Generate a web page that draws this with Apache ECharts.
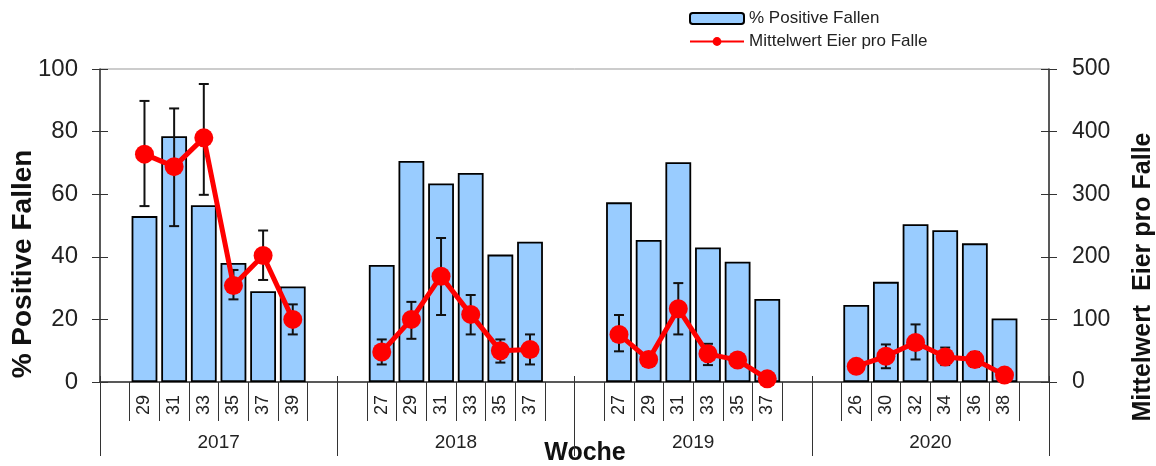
<!DOCTYPE html>
<html>
<head>
<meta charset="utf-8">
<script src="https://cdn.jsdelivr.net/npm/echarts@6/dist/echarts.min.js"></script>
<style>html,body{margin:0;padding:0;background:#fff;}#c{width:1156px;height:466px;}</style>
</head>
<body>
<div id="c"></div>
<script>
// ---- data ----
const years = ['2017', '2018', '2019', '2020'];
const weeks = [
  ['29', '31', '33', '35', '37', '39'],
  ['27', '29', '31', '33', '35', '37'],
  ['27', '29', '31', '33', '35', '37'],
  ['26', '30', '32', '34', '36', '38']
];
const pctPositive = [
  [53, 78.5, 56.5, 38, 29, 30.5],
  [37.4, 70.6, 63.4, 66.8, 40.7, 44.8],
  [57.4, 45.4, 70.2, 43, 38.4, 26.5],
  [24.6, 32, 50.4, 48.5, 44.3, 20.3]
];
const eggsMean = [
  [364, 344, 390, 154, 202, 100],
  [48, 100, 169, 108, 50, 52],
  [76, 36, 117, 45, 35, 5],
  [25, 41, 63, 40, 36, 11]
];
const errLow = [
  [281, 249, 299, 132, 163, 76],
  [28, 69, 107, 76, 31, 28],
  [49, 30, 76, 27, 29, 2],
  [20, 22, 36, 27, 24, 6]
];
const errHigh = [
  [449, 437, 476, 179, 242, 124],
  [68, 128, 230, 139, 68, 76],
  [107, 42, 158, 61, 41, 8],
  [30, 60, 92, 55, 48, 16]
];
const leftTicks = { min: 0, max: 100, interval: 20 };
const rightTicks = { min: 0, max: 500, interval: 100 };

// ---- build category layout: 1 empty, 6 weeks, 1 empty per year ----
const cats = [], barData = [], lineData = [], errData = [];
years.forEach((y, g) => {
  cats.push('gapA' + g); barData.push(null); lineData.push(null);
  weeks[g].forEach((w, k) => {
    const idx = cats.length;
    cats.push(y + '-' + w);
    barData.push(pctPositive[g][k]);
    lineData.push(eggsMean[g][k]);
    errData.push([idx, errLow[g][k], errHigh[g][k]]);
  });
  cats.push('gapB' + g); barData.push(null); lineData.push(null);
});

const FONT = '"Liberation Sans", Arial, sans-serif';
const AX = '#333';

const chart = echarts.init(document.getElementById('c'), null, { renderer: 'canvas' });
chart.setOption({
  animation: false,
  backgroundColor: '#fff',
  textStyle: { fontFamily: FONT },
  grid: { left: 100, right: 107, top: 69, bottom: 84, show: true, borderColor: '#999', borderWidth: 1, backgroundColor: 'transparent' },
  legend: {
    orient: 'vertical', left: 684, top: 5, itemWidth: 54, itemHeight: 11, itemGap: 6,
    textStyle: { fontSize: 17, color: '#222', fontFamily: FONT },
    data: ['% Positive Fallen', 'Mittelwert Eier pro Falle']
  },
  xAxis: [
    {
      type: 'category', data: cats, boundaryGap: true, position: 'bottom',
      axisLine: { lineStyle: { color: AX, width: 1.5 } },
      axisTick: { show: true, length: 39, interval: (i) => i % 8 !== 0, lineStyle: { color: AX, width: 1 } },
      axisLabel: {
        interval: 0, rotate: 90, margin: 13, fontSize: 18, color: '#222', fontFamily: FONT,
        formatter: (v) => v.startsWith('gap') ? '' : v.split('-')[1]
      },
      splitLine: { show: false }
    },
    {
      type: 'category', data: years, boundaryGap: true, position: 'bottom', offset: -6,
      axisLine: { show: false },
      axisTick: { show: true, interval: 0, length: 80, lineStyle: { color: AX, width: 1 } },
      axisLabel: { interval: 0, margin: 57, fontSize: 19, color: '#222', fontFamily: FONT },
      splitLine: { show: false }
    }
  ],
  yAxis: [
    {
      type: 'value', position: 'left', min: leftTicks.min, max: leftTicks.max, interval: leftTicks.interval,
      axisLine: { show: true, lineStyle: { color: AX, width: 1.5 } },
      axisTick: { show: true, inside: false, length: 8, lineStyle: { color: AX } },
      axisLabel: { margin: 22, fontSize: 24, color: '#222', fontFamily: FONT },
      splitLine: { show: false }
    },
    {
      type: 'value', position: 'right', min: rightTicks.min, max: rightTicks.max, interval: rightTicks.interval,
      axisLine: { show: true, lineStyle: { color: AX, width: 1.5 } },
      axisTick: { show: true, inside: false, length: 8, lineStyle: { color: AX } },
      axisLabel: { margin: 23, fontSize: 23, color: '#222', fontFamily: FONT },
      splitLine: { show: false }
    },
    {
      type: 'value', position: 'left', min: leftTicks.min, max: leftTicks.max, interval: leftTicks.interval,
      axisLine: { show: false }, axisLabel: { show: false }, splitLine: { show: false },
      axisTick: { show: true, inside: true, length: 8, lineStyle: { color: AX } }
    },
    {
      type: 'value', position: 'right', min: rightTicks.min, max: rightTicks.max, interval: rightTicks.interval,
      axisLine: { show: false }, axisLabel: { show: false }, splitLine: { show: false },
      axisTick: { show: true, inside: true, length: 8, lineStyle: { color: AX } }
    }
  ],
  series: [
    {
      name: '% Positive Fallen', type: 'bar', xAxisIndex: 0, yAxisIndex: 0, data: barData,
      barCategoryGap: '13%', z: 2,
      itemStyle: { color: '#99CCFF', borderColor: '#000', borderWidth: 1.8 }
    },
    {
      name: 'err', type: 'custom', xAxisIndex: 0, yAxisIndex: 1, data: errData, z: 3,
      encode: { x: 0, y: [1, 2] },
      renderItem: function (params, api) {
        const x = api.value(0);
        const lo = api.coord([x, api.value(1)]);
        const hi = api.coord([x, api.value(2)]);
        const w = 5;
        const st = { stroke: '#111', lineWidth: 2 };
        return {
          type: 'group', children: [
            { type: 'line', shape: { x1: lo[0], y1: lo[1], x2: hi[0], y2: hi[1] }, style: st },
            { type: 'line', shape: { x1: lo[0] - w, y1: lo[1], x2: lo[0] + w, y2: lo[1] }, style: st },
            { type: 'line', shape: { x1: hi[0] - w, y1: hi[1], x2: hi[0] + w, y2: hi[1] }, style: st }
          ]
        };
      }
    },
    {
      name: 'Mittelwert Eier pro Falle', type: 'line', xAxisIndex: 0, yAxisIndex: 1, data: lineData,
      connectNulls: false, z: 4, symbol: 'circle', symbolSize: 19,
      lineStyle: { color: '#FF0000', width: 5 },
      itemStyle: { color: '#FF0000' }
    }
  ],
  graphic: [
    { type: 'text', x: 23, y: 264, rotation: Math.PI / 2,
      style: { text: '% Positive Fallen', font: 'bold 28px ' + FONT, fill: '#111', align: 'center', verticalAlign: 'middle' } },
    { type: 'text', x: 1143, y: 277, rotation: Math.PI / 2,
      style: { text: 'Mittelwert  Eier pro Falle', font: 'bold 25px ' + FONT, fill: '#111', align: 'center', verticalAlign: 'middle' } },
    { type: 'text', x: 585, y: 453,
      style: { text: 'Woche', font: 'bold 25px ' + FONT, fill: '#111', align: 'center', verticalAlign: 'middle' } }
  ]
});
</script>
</body>
</html>
